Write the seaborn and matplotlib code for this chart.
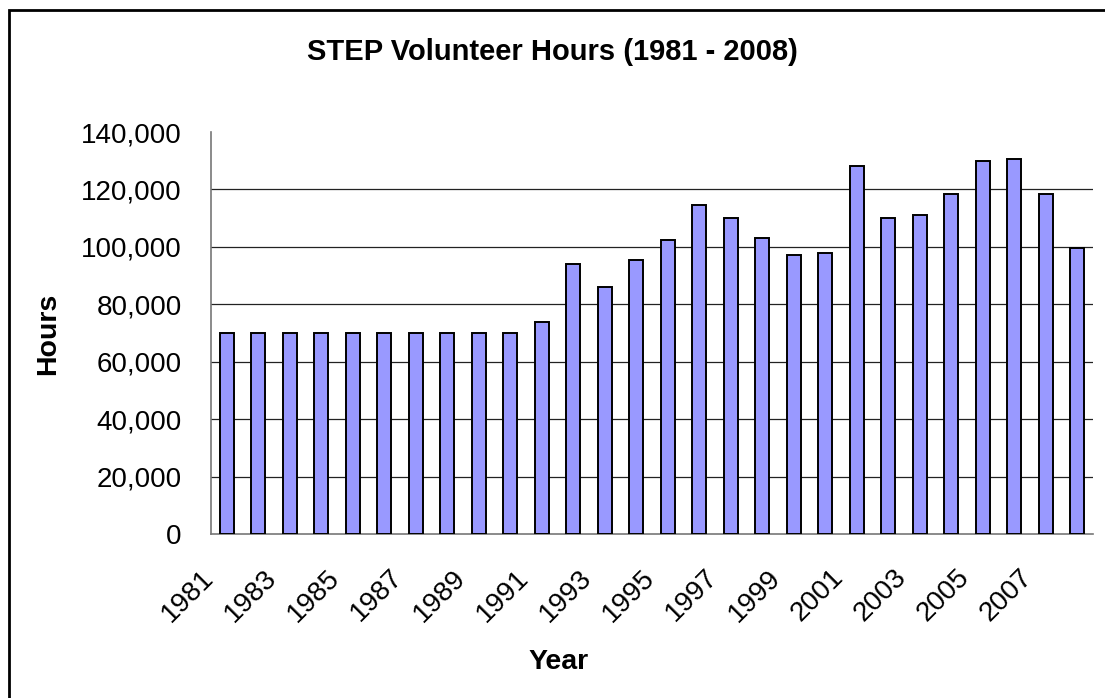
import numpy as np
import pandas as pd
import seaborn as sns
import matplotlib.pyplot as plt
from matplotlib.patches import Rectangle
from matplotlib.ticker import StrMethodFormatter
from matplotlib.transforms import ScaledTranslation

# Dados
anos = list(range(1981, 2009))
horas = [70000, 70000, 70000, 70000, 70000, 70000, 70000, 70000, 70000, 70000,
         74000, 94000, 86000, 95500, 102500, 114500, 110000, 103000, 97000, 98000,
         128000, 110000, 111000, 118500, 130000, 130500, 118500, 99500]
rotulos = [str(a) if (a - 1981) % 2 == 0 else "" for a in anos]

sns.set_style("white")
plt.rcParams["font.family"] = ["Liberation Sans", "DejaVu Sans"]
plt.rcParams["text.color"] = "black"
plt.rcParams["xtick.labelcolor"] = "black"
plt.rcParams["ytick.labelcolor"] = "black"

df = pd.DataFrame({"Year": [str(a) for a in anos], "Hours": horas})

fig = plt.figure(figsize=(11.05, 6.98), dpi=100)
ax = fig.add_axes([211 / 1105, 1 - 534 / 698, 882 / 1105, 402 / 698])

sns.barplot(data=df, x="Year", y="Hours", ax=ax, color="#9999FF", saturation=1,
            edgecolor="black", linewidth=1.4, width=0.44, zorder=3)

ax.set_xlim(-0.5, len(anos) - 0.5)
ax.set_ylim(0, 140000)
ax.set_yticks(np.arange(0, 140001, 20000))
ax.yaxis.set_major_formatter(StrMethodFormatter("{x:,.0f}"))

# linhas de grade (sem a do topo)
for v in range(20000, 140000, 20000):
    ax.axhline(v, color="#222222", lw=0.9, zorder=1)

ax.set_xticks(range(len(anos)))
ax.set_xticklabels(rotulos, rotation=45, ha="right", fontsize=20, color="black")
ax.set_xticks(np.arange(-0.5, len(anos), 1), minor=True)
ax.tick_params(axis="x", which="major", length=0, pad=22)
ax.tick_params(axis="x", which="minor", length=10, width=1, color="#555555", direction="out")
ax.tick_params(axis="y", length=9, width=1, color="#555555", direction="out", pad=12,
               labelsize=20, labelcolor="black")
for lbl in ax.get_xticklabels():
    lbl.set_transform(lbl.get_transform() + ScaledTranslation(-0.08, 0, fig.dpi_scale_trans))

for lado in ["top", "right"]:
    ax.spines[lado].set_visible(False)
for lado in ["left", "bottom"]:
    ax.spines[lado].set_color("#777777")
    ax.spines[lado].set_linewidth(1.2)

ax.set_xlabel("")
ax.set_ylabel("")
fig.text(552 / 1105, 1 - 52 / 698, "STEP Volunteer Hours (1981 - 2008)",
         ha="center", va="center", fontsize=21, fontweight="bold", color="black")
fig.text(48 / 1105, 1 - 334 / 698, "Hours", rotation=90, ha="center", va="center",
         fontsize=20.5, fontweight="bold", color="black")
fig.text(559 / 1105, 1 - 662 / 698, "Year", ha="center", va="center",
         fontsize=20.5, fontweight="bold", color="black")

# borda da área do gráfico (cortada à direita e embaixo)
fig.patches.append(Rectangle((9 / 1105, -0.2), 1.2, 1.2 - 10 / 698, transform=fig.transFigure,
                             fill=False, edgecolor="black", linewidth=2, clip_on=False))

fig.savefig("out.png", dpi=100)
